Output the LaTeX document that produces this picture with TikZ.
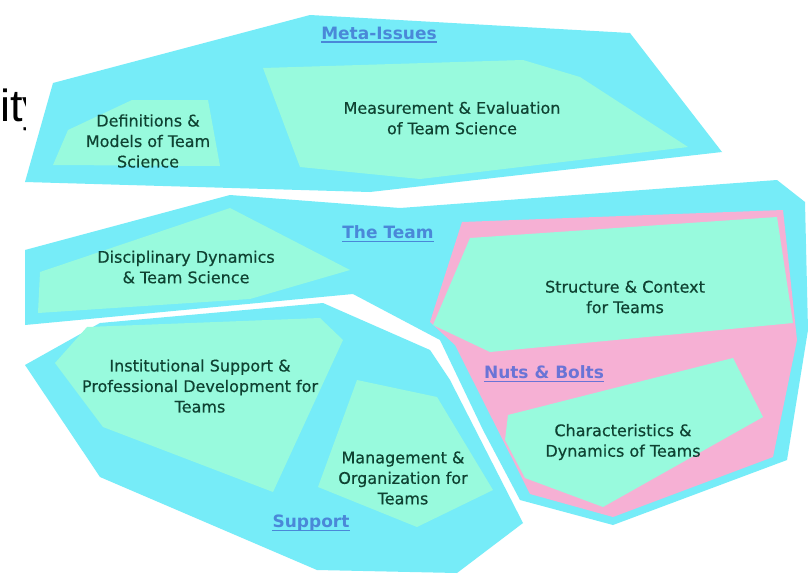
\documentclass[tikz,border=0pt]{standalone}
\usepackage{fontspec}
\setmainfont{DejaVu Sans}
\newfontfamily\topicfont[FakeBold=0.5]{DejaVu Sans}
\newfontfamily\slidefont{Liberation Sans}
\definecolor{cyanfill}{HTML}{76ECF8}
\definecolor{greenfill}{HTML}{98FADD}
\definecolor{pinkfill}{HTML}{F6B0D4}
\definecolor{topictext}{HTML}{0F4232}
\definecolor{labblue}{HTML}{4A88D8}
\definecolor{labpurple}{HTML}{6A74D6}
\tikzset{
  region/.style={fill=cyanfill},
  subregion/.style={fill=greenfill},
  nutsregion/.style={fill=pinkfill},
  topic/.style={font=\topicfont\fontsize{16}{20.5}\selectfont, text=topictext, align=center, inner sep=0pt},
  grouplabel/.style={font=\bfseries\fontsize{17}{20}\selectfont, text=labblue, inner sep=0pt},
  underl/.style={line width=1.2pt}
}
\begin{document}
\begin{tikzpicture}[x=1pt,y=-1pt]
\useasboundingbox (0,0) rectangle (808,576);
\fill[white] (0,0) rectangle (808,576);

% partial slide text
\begin{scope}
\clip (0,60) rectangle (25,140);
\node[anchor=base west, font=\slidefont\fontsize{45}{50}\selectfont, inner sep=0pt] (ity) at (0,121) {ity};
\end{scope}

% Meta-Issues
\fill[region] (53,83) -- (310,15) -- (630,33) -- (722,152) -- (370,192) -- (25,182) -- cycle;
\fill[subregion] (53,165) -- (68,130) -- (132,100) -- (208,100) -- (220,166) -- cycle;
\fill[subregion] (263,68) -- (523,60) -- (580,77) -- (688,147) -- (420,179) -- (300,167) -- cycle;

% The Team
\fill[region] (25,250) -- (230,195) -- (400,208) -- (777,180) -- (805,202) -- (808,330) -- (787,460) -- (613,525) -- (520,500) -- (483,430) -- (440,340) -- (353,294) -- (25,325) -- cycle;
\fill[subregion] (40,272) -- (230,208) -- (350,270) -- (250,299) -- (38,313) -- cycle;
\fill[nutsregion] (462,222) -- (783,210) -- (797,340) -- (773,457) -- (613,517) -- (530,494) -- (455,345) -- (430,322) -- cycle;
\fill[subregion] (470,238) -- (777,217) -- (793,323) -- (490,352) -- (433,325) -- cycle;
\fill[subregion] (508,415) -- (733,358) -- (763,417) -- (603,507) -- (525,478) -- (505,440) -- cycle;

% Support
\fill[region] (25,365) -- (100,323) -- (323,303) -- (430,350) -- (450,380) -- (523,523) -- (457,573) -- (317,570) -- (100,477) -- cycle;
\fill[subregion] (55,363) -- (87,327) -- (320,318) -- (343,340) -- (273,492) -- (103,427) -- cycle;
\fill[subregion] (357,380) -- (437,397) -- (493,490) -- (417,527) -- (318,487) -- cycle;

% topic texts
\node[topic] (defs) at (148,141) {Definitions \&\\Models of Team\\Science};
\node[topic] (meas) at (452,118) {Measurement \& Evaluation\\of Team Science};
\node[topic] (disc) at (186,267) {Disciplinary Dynamics\\\& Team Science};
\node[topic] (struct) at (625,297) {Structure \& Context\\for Teams};
\node[topic] (chars) at (623,442) {Characteristics \&\\Dynamics of Teams};
\node[topic] (inst) at (200,386) {Institutional Support \&\\Professional Development for\\Teams};
\node[topic] (mgmt) at (403,478) {Management \&\\Organization for\\Teams};

% group labels
\node[grouplabel] (meta) at (379,33) {Meta-Issues};
\node[grouplabel] (team) at (388,232) {The Team};
\node[grouplabel, text=labpurple] (nuts) at (544,372) {Nuts \& Bolts};
\node[grouplabel] (supp) at (311,523) {Support};
\foreach \n/\c in {meta/labblue, team/labblue, nuts/labpurple, supp/labblue}{
  \draw[underl, draw=\c] ([yshift=-3pt]\n.base west) -- ([yshift=-3pt]\n.base east);
}
\end{tikzpicture}
\end{document}
